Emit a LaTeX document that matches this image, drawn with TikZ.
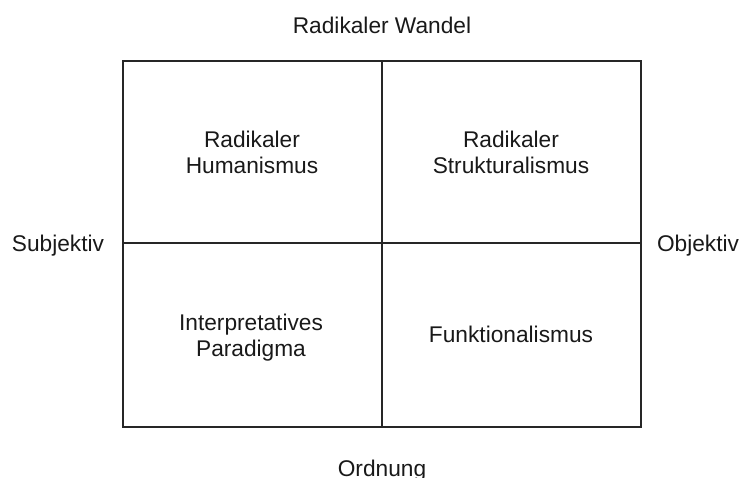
\documentclass[tikz,border=0pt]{standalone}
\usepackage{fontspec}
\setmainfont{Liberation Sans}
\begin{document}
\begin{tikzpicture}[x=1pt,y=-1pt,
  lbl/.style={font=\fontsize{22.7}{25.8}\selectfont, inner sep=0pt, anchor=base, align=center, text=black!90},
  gridline/.style={draw=black!85, line width=1.3pt}]
\useasboundingbox (0,0) rectangle (742,478);
\coordinate (tl) at (123,61);
\coordinate (br) at (641,427);
\coordinate (tm) at (382,61);
\coordinate (bm) at (382,427);
\coordinate (lm) at (123,243);
\coordinate (rm) at (641,243);
\draw[gridline] (tl) rectangle (br);
\draw[gridline] (tm) -- (bm);
\draw[gridline] (lm) -- (rm);
\node[lbl] (wandel) at (382,34) {Radikaler Wandel};
\node[lbl] (ordnung) at (382,476.5) {Ordnung};
\node[lbl] (subj) at (58,252) {Subjektiv};
\node[lbl] (obj) at (698,252) {Objektiv};
\node[lbl] (hum) at (252,173.5) {Radikaler\\Humanismus};
\node[lbl] (strukt) at (511,173.5) {Radikaler\\Strukturalismus};
\node[lbl] (interp) at (251,356) {Interpretatives\\Paradigma};
\node[lbl] (funk) at (511,343) {Funktionalismus};
\end{tikzpicture}
\end{document}
